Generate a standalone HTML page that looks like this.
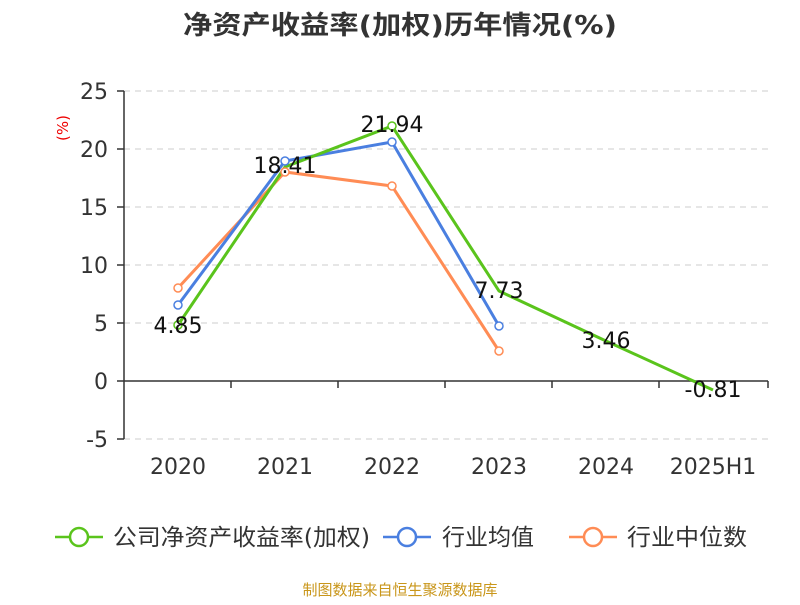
<!DOCTYPE html>
<html><head><meta charset="utf-8"><style>
body{margin:0;background:#fff;}
svg text{font-family:"DejaVu Sans","Noto Sans CJK SC",sans-serif;}
</style></head><body>
<svg width="800" height="600" xmlns="http://www.w3.org/2000/svg">
<text x="183" y="34" textLength="434" lengthAdjust="spacingAndGlyphs" font-size="26" font-weight="bold" fill="#333">净资产收益率(加权)历年情况(%)</text>
<text x="68" y="128" font-size="15" fill="#e00" transform="rotate(-90 68 128)" text-anchor="middle">(%)</text>
<g stroke="#ccc" stroke-dasharray="6,5" stroke-width="1">
<line x1="124" y1="91" x2="768" y2="91"/><line x1="124" y1="149" x2="768" y2="149"/>
<line x1="124" y1="207" x2="768" y2="207"/><line x1="124" y1="265" x2="768" y2="265"/>
<line x1="124" y1="323" x2="768" y2="323"/><line x1="124" y1="439" x2="768" y2="439"/>
</g>
<g stroke="#333" stroke-width="1.5">
<line x1="124" y1="91" x2="124" y2="439"/>
<line x1="124" y1="381" x2="768" y2="381"/>
<line x1="117" y1="91" x2="124" y2="91"/><line x1="117" y1="149" x2="124" y2="149"/>
<line x1="117" y1="207" x2="124" y2="207"/><line x1="117" y1="265" x2="124" y2="265"/>
<line x1="117" y1="323" x2="124" y2="323"/><line x1="117" y1="381" x2="124" y2="381"/>
<line x1="117" y1="439" x2="124" y2="439"/>
<line x1="231" y1="381" x2="231" y2="388"/><line x1="338" y1="381" x2="338" y2="388"/>
<line x1="445" y1="381" x2="445" y2="388"/><line x1="552" y1="381" x2="552" y2="388"/>
<line x1="659" y1="381" x2="659" y2="388"/><line x1="768" y1="381" x2="768" y2="388"/>
</g>
<g font-size="22" fill="#333" text-anchor="end">
<text x="108" y="99">25</text><text x="108" y="157">20</text><text x="108" y="215">15</text>
<text x="108" y="273">10</text><text x="108" y="331">5</text><text x="108" y="389">0</text><text x="108" y="447">-5</text>
</g>
<g font-size="22" fill="#333" text-anchor="middle">
<text x="178" y="474">2020</text><text x="285" y="474">2021</text><text x="392" y="474">2022</text>
<text x="499" y="474">2023</text><text x="606" y="474">2024</text><text x="713" y="474">2025H1</text>
</g>
<polyline fill="none" stroke="#ff8c55" stroke-width="3" points="178,288 285,172 392,186 499,351"/>
<polyline fill="none" stroke="#4a7fe0" stroke-width="3" points="178,305 285,161 392,142 499,326"/>
<polyline fill="none" stroke="#5ac41c" stroke-width="3" points="178,325 285,167 392,126 499,291 606,341 713,390"/>
<g fill="#fff" stroke-width="1.5">
<g stroke="#ff8c55"><circle cx="178" cy="288" r="4"/><circle cx="285" cy="172" r="4"/><circle cx="392" cy="186" r="4"/><circle cx="499" cy="351" r="4"/></g>
<g stroke="#4a7fe0"><circle cx="178" cy="305" r="4"/><circle cx="285" cy="161" r="4"/><circle cx="392" cy="142" r="4"/><circle cx="499" cy="326" r="4"/></g>
<g stroke="#5ac41c"><circle cx="178" cy="325" r="4"/><circle cx="392" cy="126" r="4"/></g>
</g>
<g font-size="22" fill="#111" text-anchor="middle">
<text x="178" y="333">4.85</text><text x="285" y="173">18.41</text><text x="392" y="132">21.94</text>
<text x="499" y="298">7.73</text><text x="606" y="348">3.46</text><text x="713" y="397">-0.81</text>
</g>
<g stroke-width="2.5" fill="#fff">
<line x1="55" y1="537" x2="103" y2="537" stroke="#5ac41c"/><circle cx="79" cy="537" r="9" stroke="#5ac41c"/>
<line x1="383" y1="537" x2="431" y2="537" stroke="#4a7fe0"/><circle cx="407" cy="537" r="9" stroke="#4a7fe0"/>
<line x1="569" y1="537" x2="617" y2="537" stroke="#ff8c55"/><circle cx="593" cy="537" r="9" stroke="#ff8c55"/>
</g>
<g font-size="23" fill="#333">
<text x="113" y="545" textLength="257" lengthAdjust="spacingAndGlyphs">公司净资产收益率(加权)</text>
<text x="442" y="545" textLength="92" lengthAdjust="spacingAndGlyphs">行业均值</text>
<text x="627" y="545" textLength="120" lengthAdjust="spacingAndGlyphs">行业中位数</text>
</g>
<text x="400" y="595" text-anchor="middle" font-size="15" fill="#c9961a">制图数据来自恒生聚源数据库</text>
</svg>
</body></html>
